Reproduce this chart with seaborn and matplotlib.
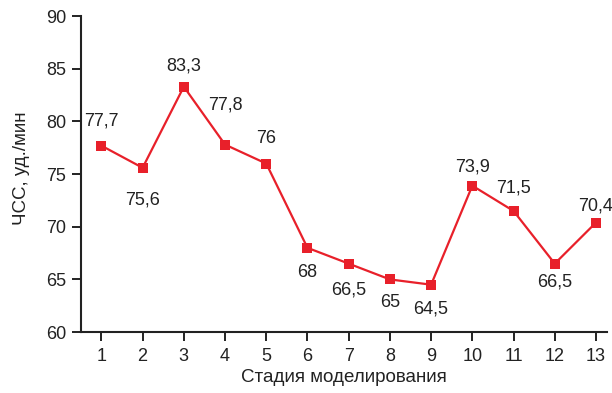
import numpy as np
import pandas as pd
import seaborn as sns
import matplotlib
matplotlib.use("Agg")
import matplotlib.pyplot as plt

# ── Data ────────────────────────────────────────────────────────────────
stages = list(range(1, 14))
hr_values = [77.7, 75.6, 83.3, 77.8, 76, 68, 66.5, 65, 64.5, 73.9, 71.5, 66.5, 70.4]
value_labels = ["77,7", "75,6", "83,3", "77,8", "76", "68", "66,5",
                "65", "64,5", "73,9", "71,5", "66,5", "70,4"]
y_ticks = [60, 65, 70, 75, 80, 85, 90]

# label vertical offsets in pixels (positive = above the point)
label_dy = [25, -32, 21, 40, 25, -25, -26, -23, -24, 19, 23, -18, 17]

sns.set_style("ticks")
plt.rcParams["font.family"] = ["Liberation Sans", "DejaVu Sans"]
plt.rcParams["font.size"] = 13

red = "#E8202A"
txt_col = "#222222"
df = pd.DataFrame({"stage": stages, "hr": hr_values})

fig = plt.figure(figsize=(6.12, 3.93), dpi=100)
ax = fig.add_axes([0.132, 0.155, 0.86, 0.804])

sns.lineplot(data=df, x="stage", y="hr", ax=ax, color=red, linewidth=1.6,
             marker="s", markersize=7.5, markeredgewidth=0, markerfacecolor=red)

for x, y, txt, dy in zip(stages, hr_values, value_labels, label_dy):
    ax.annotate(txt, (x, y), xytext=(0, dy), textcoords="offset pixels",
                ha="center", va="center", fontsize=13, color=txt_col)

ax.set_xlim(0.5, 13.27)
ax.set_ylim(60, 90)
ax.set_xticks(stages)
ax.set_yticks(y_ticks)
ax.set_xlabel("Стадия моделирования", fontsize=13.5, color=txt_col, labelpad=3)
ax.set_ylabel("ЧСС, уд./мин", fontsize=13.5, color=txt_col)
ax.yaxis.set_label_coords(-0.096, 0.52)

sns.despine(ax=ax)
for s in ["left", "bottom"]:
    ax.spines[s].set_linewidth(1.5)
    ax.spines[s].set_color(txt_col)
ax.tick_params(axis="both", direction="out", length=6.5, width=1.4,
               labelsize=13, colors=txt_col, pad=4)
ax.tick_params(axis="x", pad=5)

fig.savefig("out.png", dpi=100)
